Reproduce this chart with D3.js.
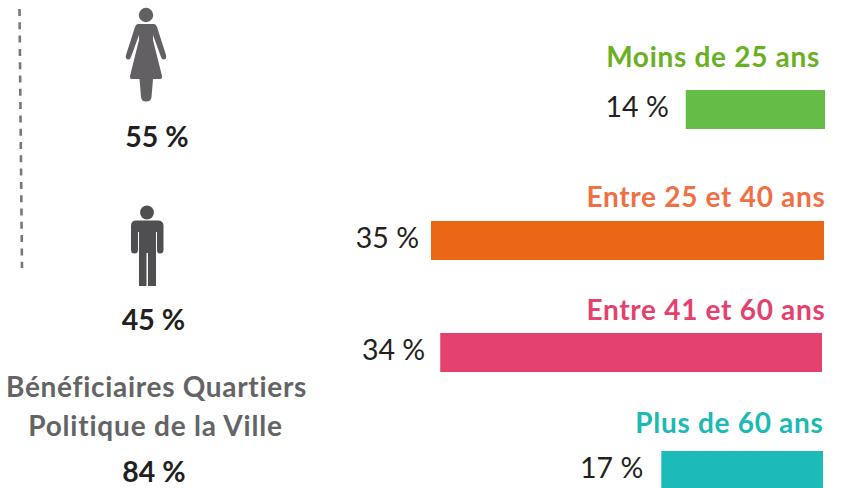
<!DOCTYPE html>
<html><head><meta charset="utf-8">
<script src="https://cdn.jsdelivr.net/npm/d3@7/dist/d3.min.js"></script>
<style>html,body{margin:0;padding:0;background:#fff}svg{display:block}text{font-family:Lato,"Open Sans",sans-serif}</style>
</head><body><svg id="c" width="842" height="488"></svg>
<script>
const ageCategories = ["Moins de 25 ans","Entre 25 et 40 ans","Entre 41 et 60 ans","Plus de 60 ans"];
const ageLabels = [14,35,34,17];
// bar lengths as they are drawn in the picture, in percent units of the long bars
const ageBarLengths = [12.4,35,34,14.4];
const ageColors = ["#65bc46","#e96615","#e4416f","#1cbab8"];
const ageTitleColors = ["#6ab023","#ee7044","#e4416f","#1cb9b5"];
const genderLabels = [55,45];
const qpvTitle = ["Bénéficiaires Quartiers","Politique de la Ville"];
const qpvValue = 84;

const svg = d3.select("#c");
const len = d3.scaleLinear().domain([0,35]).range([0,393]);
const rowTop = [90,221,333,451], barH = 39, barRight=[825,824,822,823], labelGap=[17,12,15,18];
const titleBase = [66.5,206.5,319.5,432.5], titleRight=[820,825.5,825.5,823.5];
const left=i=>barRight[i]-len(ageBarLengths[i]);

svg.selectAll("rect.bar").data(ageBarLengths).join("rect").attr("class","bar")
  .attr("x",(d,i)=>left(i)).attr("width",d=>len(d))
  .attr("y",(d,i)=>rowTop[i]).attr("height",barH)
  .attr("fill",(d,i)=>ageColors[i]);
svg.selectAll("text.title").data(ageCategories).join("text").attr("class","title")
  .attr("x",(d,i)=>titleRight[i]).attr("y",(d,i)=>titleBase[i])
  .attr("text-anchor","end").attr("font-size",28).attr("font-weight",700).attr("letter-spacing",0.7)
  .attr("fill",(d,i)=>ageTitleColors[i]).text(d=>d);
svg.selectAll("text.val").data(ageLabels).join("text").attr("class","val")
  .attr("x",(d,i)=>left(i)-labelGap[i]).attr("y",(d,i)=>rowTop[i]+27)
  .attr("text-anchor","end").attr("font-size",28.5).attr("fill","#231f20").text(d=>d+" %");

// dashed rule
svg.append("line").attr("x1",19.5).attr("y1",9).attr("x2",22).attr("y2",268)
  .attr("stroke","#77777b").attr("stroke-width",2.6).attr("stroke-dasharray","7 6.3");

// pictograms
svg.append("circle").attr("cx",146).attr("cy",15).attr("r",7.2).attr("fill","#626063");
svg.append("path").attr("fill","#626063").attr("d",
 "M138,24 L154,24 Q156,24 157,27 L166,55 Q167,59 164,59.5 Q162,60 161,57 L153,35 L153,40 L162,76 Q162.5,79 160,79 L153,79 L151.5,97 Q151,101.5 146,101.5 Q141.5,101.5 141,97 L139.5,79 L132,79 Q129.5,79 130,76 L139,40 L139,35 L131,57 Q130,60 128,59.5 Q125,59 126,55 L135,27 Q136,24 138,24 Z");
svg.append("circle").attr("cx",147).attr("cy",212.5).attr("r",6.9).attr("fill","#4f4f51");
svg.append("path").attr("fill","#4f4f51").attr("d",
 "M136,220.5 L158,220.5 Q163.5,220.5 163.5,226 L163.5,250 Q163.5,253.5 160,253.5 Q157,253.5 157,250 L157,232 L156,232 L156,286 L148,286 L148,253 L146.5,253 L146.5,286 L139,286 L139,232 L138,232 L138,250 Q138,253.5 134.5,253.5 Q131,253.5 131,250 L131,226 Q131,220.5 136,220.5 Z");

const bold=(t,cx,y,fs,fill,ls)=>svg.append("text").attr("x",cx).attr("y",y).attr("text-anchor","middle")
  .attr("font-size",fs).attr("font-weight",700).attr("letter-spacing",ls).attr("fill",fill).text(t);
bold(genderLabels[0]+" %",157,147,28.5,"#231f20",0);
bold(genderLabels[1]+" %",153.5,329.5,28.5,"#231f20",0);
bold(qpvTitle[0],156.5,397,28,"#636466",0.7);
bold(qpvTitle[1],155.5,436,28,"#636466",0.8);
bold(qpvValue+" %",154,482,28.5,"#231f20",0);
</script></body></html>
